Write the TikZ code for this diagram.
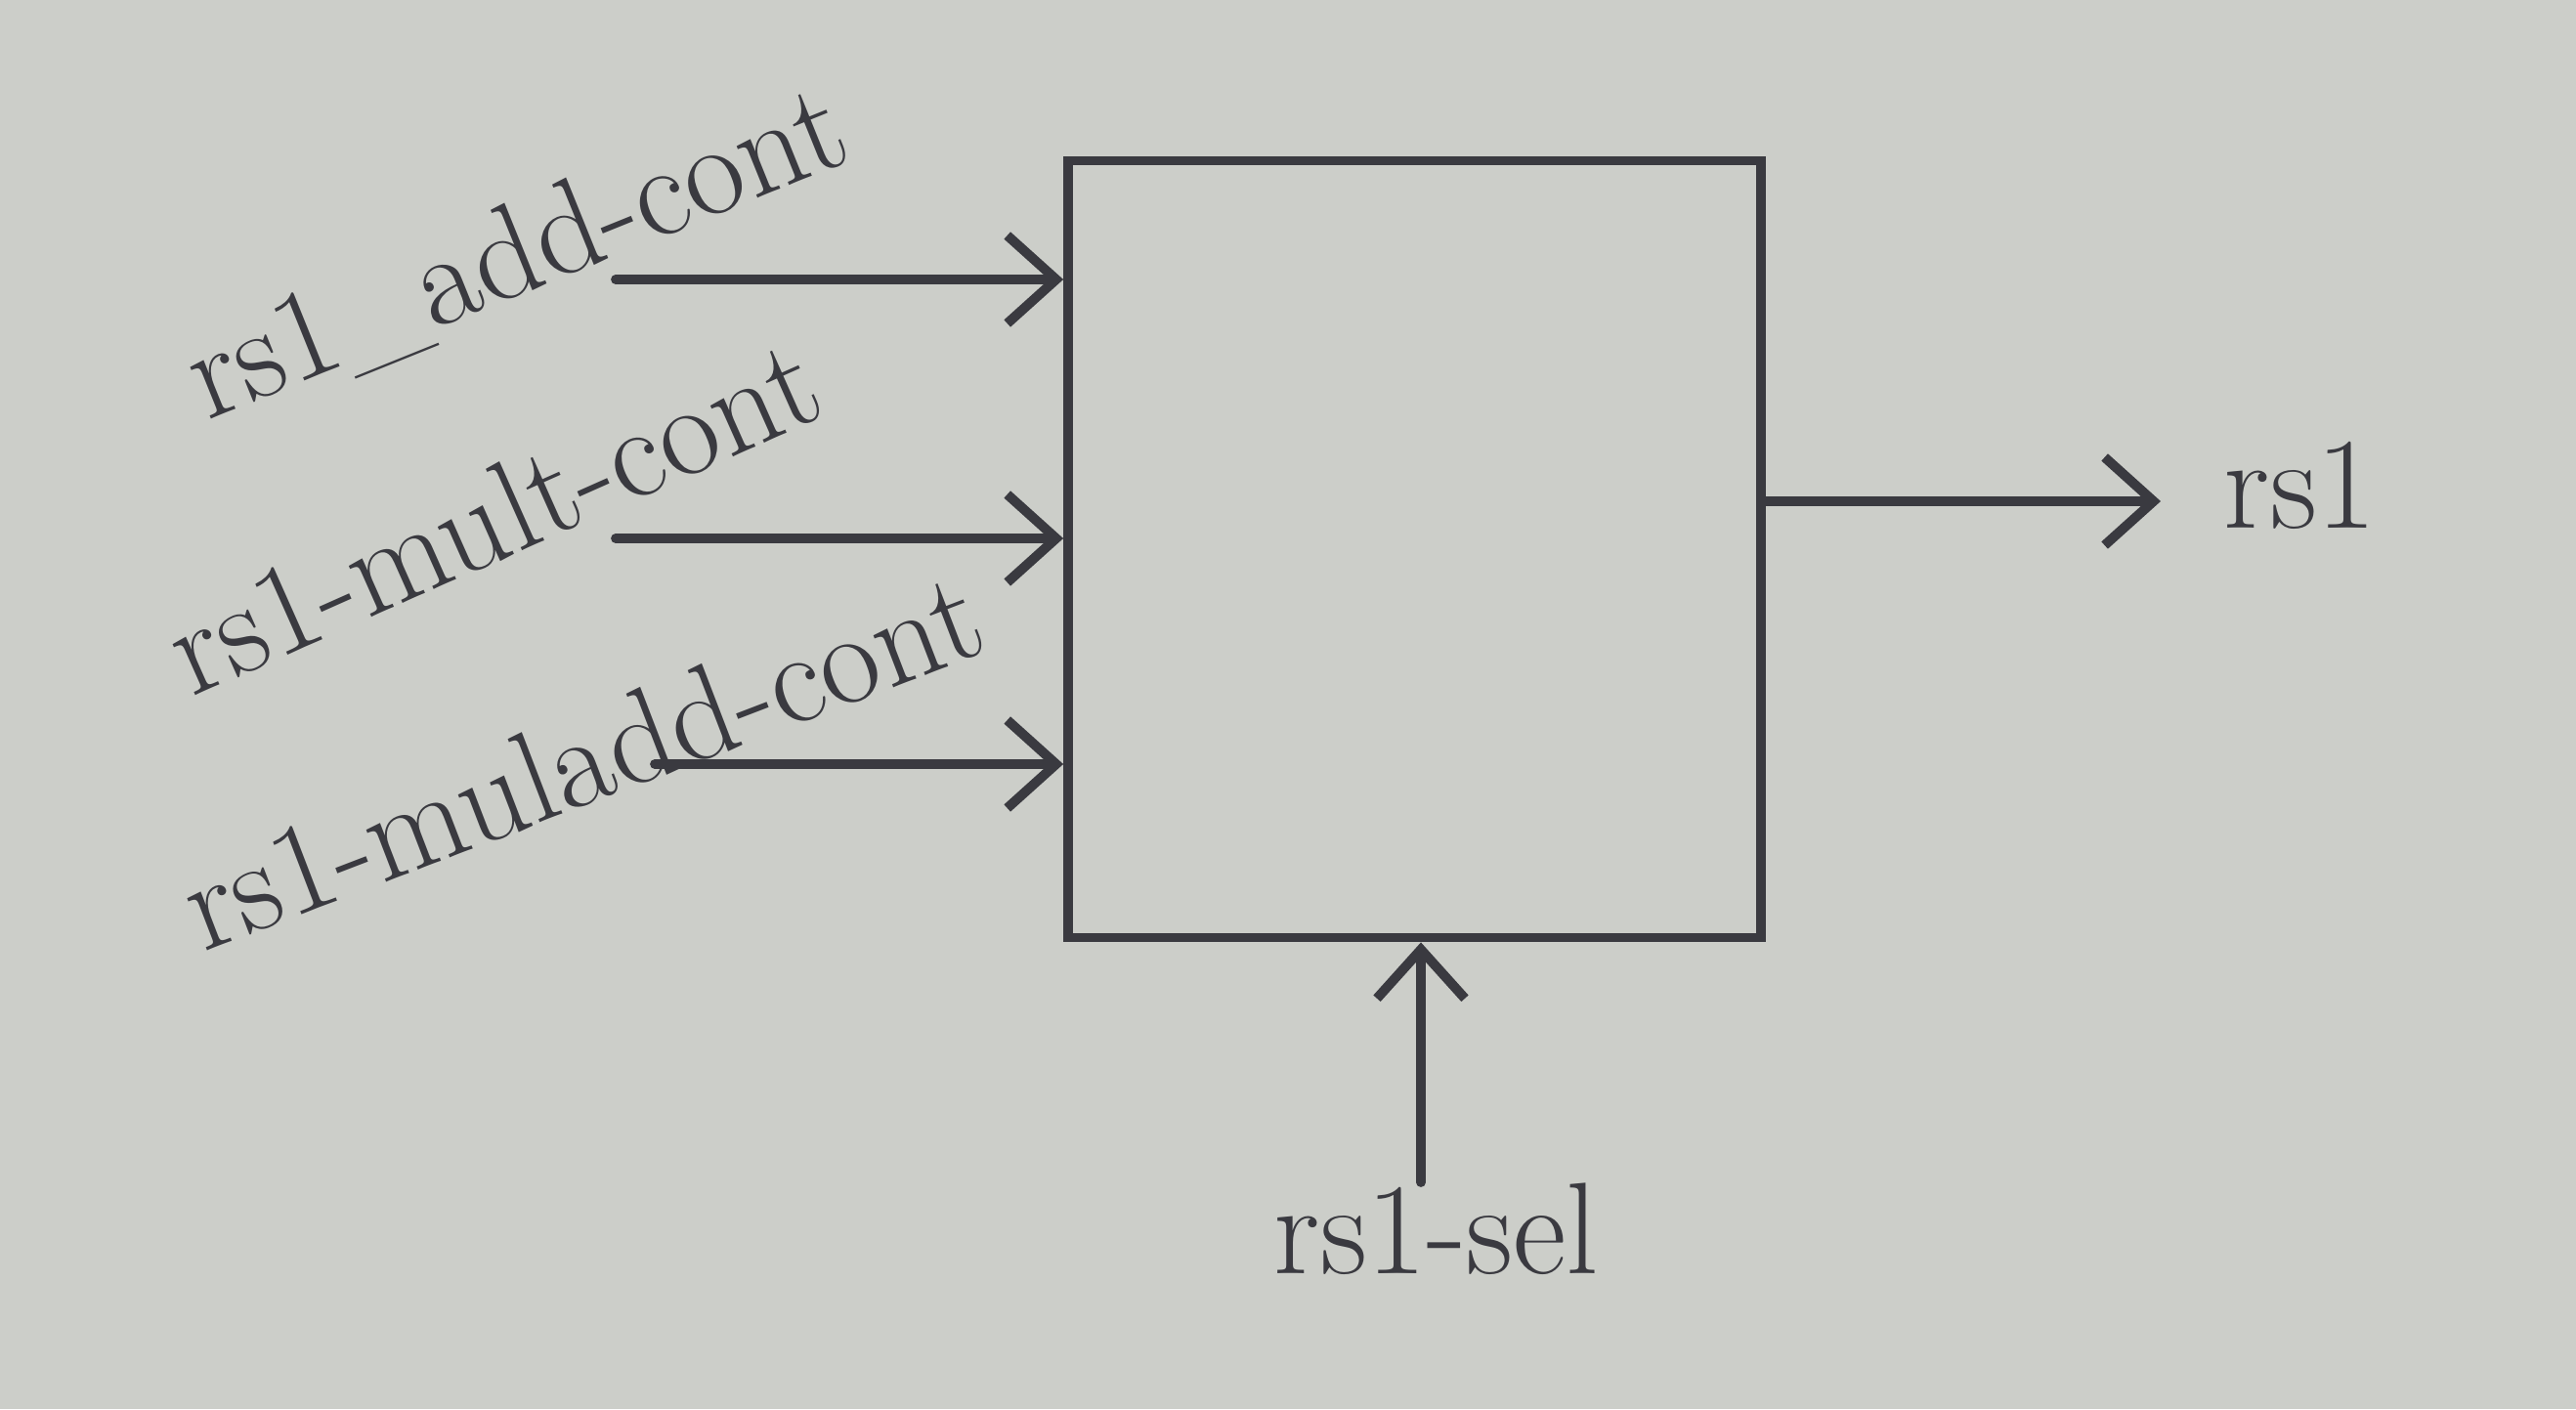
\documentclass[tikz,border=0pt]{standalone}
\usepackage{fontspec}
\usetikzlibrary{arrows.meta}
\definecolor{paper}{RGB}{204,206,201}
\definecolor{ink}{RGB}{58,58,64}
\begin{document}
\begin{tikzpicture}[
  wire/.style={draw=ink, line width=2.8pt, line cap=round,
    -{Straight Barb[length=5mm,width=9mm,line width=2.8pt]}},
  lbl/.style={text=ink, font=\fontsize{38}{46}\selectfont, inner sep=0pt},
  blk/.style={draw=ink, line width=2.8pt, minimum width=7.09cm, minimum height=7.95cm, inner sep=0pt}
]
\fill[paper] (0,0) rectangle (26.36,14.42);
\useasboundingbox (0,0) rectangle (26.36,14.42);

\node[blk] (box) at (14.475,8.80) {};

% input sources
\coordinate (a1) at (6.30,11.56);
\coordinate (a2) at (6.30,8.91);
\coordinate (a3) at (6.70,6.60);
\draw[wire] (a1) -- (box.west |- a1);
\draw[wire] (a2) -- (box.west |- a2);
\draw[wire] (a3) -- (box.west |- a3);

\node[lbl, rotate=22] (l1) at (5.30,11.80) {rs1\_add-cont};
\node[lbl, rotate=24] (l2) at (5.04,9.15) {rs1-mult-cont};
\node[lbl, rotate=21] (l3) at (5.95,6.65) {rs1-muladd-cont};

% output
\coordinate (o) at (22.11,9.29);
\draw[wire] (box.east |- o) -- (o);
\node[lbl, anchor=west] (out) at (22.75,9.45) {rs1};

% select
\coordinate (s) at (14.54,2.32);
\draw[wire] (s) -- (s |- box.south);
\node[lbl, anchor=base west] (sel) at (13.03,1.39) {rs1-sel};
\end{tikzpicture}
\end{document}
